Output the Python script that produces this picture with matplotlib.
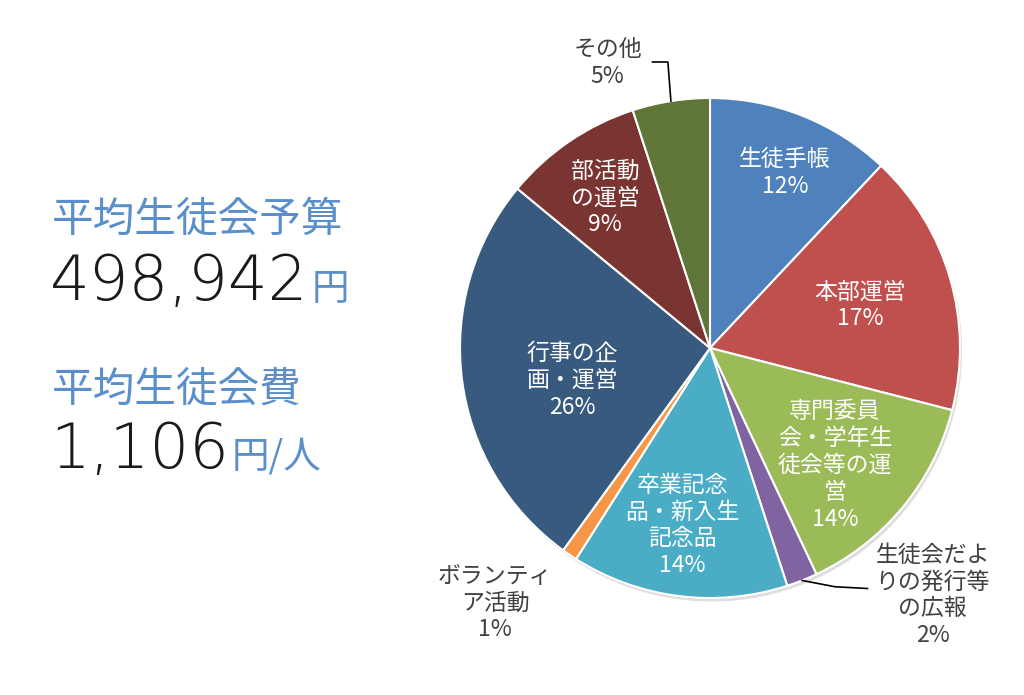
import numpy as np
import matplotlib
matplotlib.use("Agg")
import matplotlib.pyplot as plt
from matplotlib.patches import Circle

plt.rcParams['font.family'] = ['Noto Sans CJK JP', 'DejaVu Sans']

# data
categories = ['生徒手帳', '本部運営', '専門委員会・学年生徒会等の運営', '生徒会だよりの発行等の広報',
              '卒業記念品・新入生記念品', 'ボランティア活動', '行事の企画・運営', '部活動の運営', 'その他']
label_lines = ['生徒手帳', '本部運営', '専門委員\n会・学年生\n徒会等の運\n営', '生徒会だよ\nりの発行等\nの広報',
               '卒業記念\n品・新入生\n記念品', 'ボランティ\nア活動', '行事の企\n画・運営', '部活動\nの運営', 'その他']
shares = [12, 17, 14, 2, 14, 1, 26, 9, 5]
colors = ['#4F81BD', '#C0504D', '#9BBB59', '#8064A2', '#4BACC6', '#F79646', '#395A7F', '#7A3432', '#607638']

budget = '498,942'
fee = '1,106'

# label positions (data units, radius = 1) and whether label sits inside
label_pos = [(0.30, 0.70), (0.60, 0.17), (0.50, -0.47), (0.89, -0.99), (-0.11, -0.71),
             (-0.86, -1.02), (-0.55, -0.13), (-0.42, 0.60), (-0.41, 1.14)]
inside = [True, True, True, False, True, False, True, True, False]

W, H = 1024, 695
fig = plt.figure(figsize=(W / 100, H / 100), dpi=100)
fig.patch.set_facecolor('white')

# pie axes: center (710, 348), radius 250 px
cx, cy, r = 710, 348, 250
ax = fig.add_axes([(cx - r * 1.02) / W, (H - cy - r * 1.02) / H, r * 2.04 / W, r * 2.04 / H])

ax.add_patch(Circle((0.008, -0.014), 1.0, facecolor='#c8c8c8', edgecolor='none', alpha=0.6, zorder=0))
wedges, _ = ax.pie(shares, colors=colors, startangle=90, counterclock=False, radius=1.0,
                   wedgeprops=dict(edgecolor='white', linewidth=1.5))
for w in wedges:
    w.set_zorder(1)
ax.set_xlim(-1.02, 1.02)
ax.set_ylim(-1.02, 1.02)
ax.set_aspect('equal')
ax.axis('off')

for txt, val, pos, ins in zip(label_lines, shares, label_pos, inside):
    ax.text(pos[0], pos[1], f'{txt}\n{val}%', ha='center', va='center', fontsize=16.5,
            color='white' if ins else '#404040', linespacing=1.22, zorder=3, clip_on=False)

# leader lines
def edge_point(i, rad=1.0):
    w = wedges[i]
    a = np.deg2rad((w.theta1 + w.theta2) / 2)
    return rad * np.cos(a), rad * np.sin(a)

x0, y0 = edge_point(8)
ax.plot([x0, x0 - 0.012, -0.23], [y0, 1.144, 1.144], color='black', lw=1.2, clip_on=False, zorder=3)
x0, y0 = edge_point(3)
ax.plot([x0, 0.50, 0.63], [y0, -0.955, -0.962], color='black', lw=1.2, clip_on=False, zorder=3)

# left side texts
blue = '#5A8FCB'
num_font = ['DejaVu Sans']
fig.text(52 / W, 1 - 220 / H, '平均生徒会予算', fontsize=30, color=blue, va='center', ha='left')
fig.text(52 / W, 1 - 390 / H, '平均生徒会費', fontsize=30, color=blue, va='center', ha='left')

renderer = fig.canvas.get_renderer()
t1 = fig.text(50 / W, 1 - 300 / H, budget, fontsize=45, color='#1a1a1a', va='baseline', ha='left',
              family=num_font, weight='light')
bb = t1.get_window_extent(renderer)
fig.text(bb.x1 / W + 3 / W, 1 - 300 / H, '円', fontsize=27, color=blue, va='baseline', ha='left')

t2 = fig.text(50 / W, 1 - 468 / H, fee, fontsize=45, color='#1a1a1a', va='baseline', ha='left',
              family=num_font, weight='light')
bb = t2.get_window_extent(renderer)
fig.text(bb.x1 / W + 3 / W, 1 - 468 / H, '円/人', fontsize=27, color=blue, va='baseline', ha='left')

fig.savefig('out.png', dpi=100, facecolor='white')
